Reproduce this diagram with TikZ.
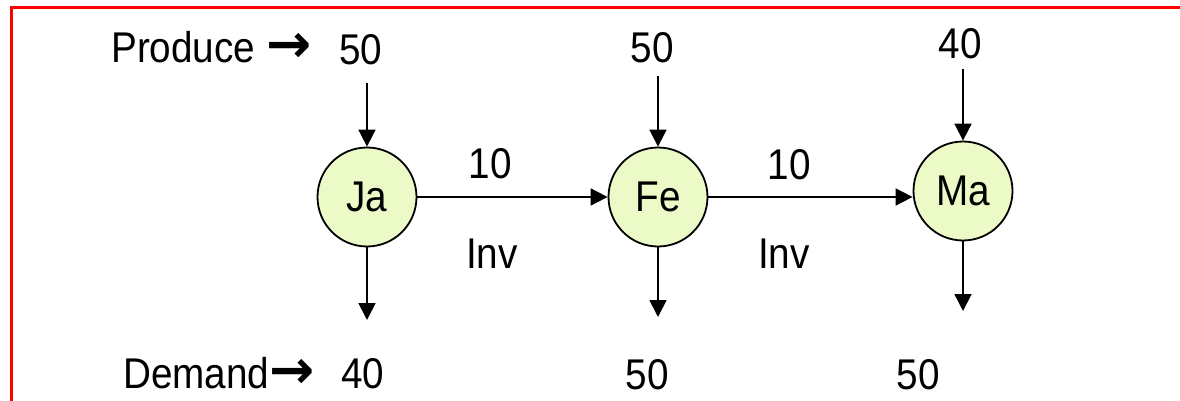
\documentclass[tikz,border=0pt]{standalone}
\usepackage{fontspec}
\setmainfont{Liberation Sans}[FakeStretch=0.9]
\newfontfamily\arrowfont{DejaVu Sans}
\usetikzlibrary{arrows.meta}
\definecolor{nodefill}{RGB}{236,250,200}
\newcommand\lblfont{\fontsize{43}{50}\selectfont}
\newcommand\rarr{{\arrowfont\bfseries\fontsize{54}{50}\selectfont →}}
\begin{document}
\begin{tikzpicture}[x=1pt,y=-1pt,
  month/.style={circle, draw=black, line width=1.8pt, fill=nodefill,
    minimum size=99pt, inner sep=0pt, font=\lblfont},
  flow/.style={-{Triangle[length=17pt,width=17pt]}, line width=1.8pt},
  lbl/.style={anchor=base, font=\lblfont, inner sep=0pt},
]
\useasboundingbox (0,0) rectangle (1180,401);
% frame
\draw[red, line width=3pt] (11,401) -- (11,7.8) -- (1180,7.8);

% months
\node[month] (ja) at (367,197) {Ja};
\node[month] (fe) at (658,197) {Fe};
\node[month] (ma) at (963,191) {Ma};

% free ends of the production and demand arrows
\coordinate (jaIn)  at (367,83);
\coordinate (feIn)  at (658,76);
\coordinate (maIn)  at (963,69);
\coordinate (jaOut) at (367,320);
\coordinate (feOut) at (658,317);
\coordinate (maOut) at (963,311);

\draw[flow] (jaIn) -- (ja);
\draw[flow] (feIn) -- (fe);
\draw[flow] (maIn) -- (ma);
\draw[flow] (ja) -- (jaOut);
\draw[flow] (fe) -- (feOut);
\draw[flow] (ma) -- (maOut);
\draw[flow] (ja) -- (fe);
\draw[flow] (fe.east) -- (fe.east -| ma.west);

% labels
\node[lbl, anchor=base west] (prod) at (111,63) {Produce \rarr};
\node[lbl] (pja) at (361,65) {50};
\node[lbl] (pfe) at (652,63) {50};
\node[lbl] (pma) at (960,59) {40};

\node[lbl] (inv1) at (490,178) {10};
\node[lbl] (inv2) at (789,179) {10};
\node[lbl] (invl1) at (492,268) {Inv};
\node[lbl] (invl2) at (784,268) {Inv};

\node[lbl, anchor=base west] (dem) at (123,388) {Demand\rarr};
\node[lbl] (dja) at (363,388) {40};
\node[lbl] (dfe) at (647,389) {50};
\node[lbl] (dma) at (918,389) {50};
\end{tikzpicture}
\end{document}
